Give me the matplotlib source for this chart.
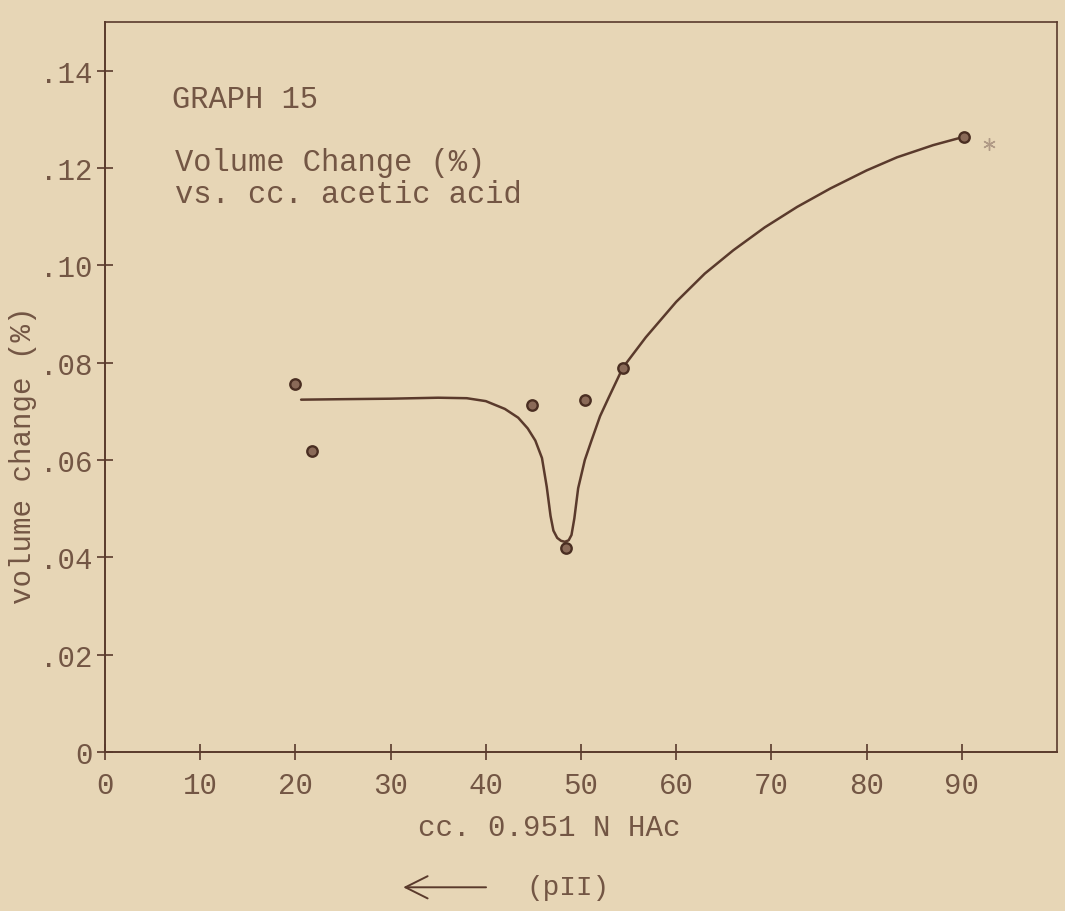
import matplotlib
matplotlib.use("Agg")
import matplotlib.pyplot as plt

# measured points (cc acid, volume change %)
pts_x = [20.0, 21.7, 44.8, 50.4, 48.4, 54.4, 90.2]
pts_y = [0.0757, 0.0619, 0.0713, 0.0724, 0.0419, 0.0790, 0.1264]

# hand drawn curve
curve_x = [20.6, 25.0, 30.0, 35.0, 38.0, 40.0, 42.0, 43.4, 44.4, 45.2, 45.9,
           46.4, 46.8, 47.1, 47.5, 47.9, 48.3, 48.7, 49.0, 49.3, 49.7, 50.4,
           51.1, 52.0, 52.9, 54.4, 56.8, 60.0, 63.0, 66.0, 69.3, 72.7, 76.2,
           80.0, 83.2, 87.0, 90.2]
curve_y = [0.0724, 0.0725, 0.0726, 0.0728, 0.0727, 0.0721, 0.0705, 0.0687,
           0.0665, 0.0640, 0.0604, 0.0545, 0.0485, 0.0455, 0.0440, 0.0434,
           0.0432, 0.0435, 0.0446, 0.0480, 0.0542, 0.0600, 0.0640, 0.0690,
           0.0728, 0.0790, 0.0852, 0.0925, 0.0983, 0.1031, 0.1078, 0.1120,
           0.1158, 0.1195, 0.1222, 0.1247, 0.1264]

star_x = [92.9]
star_y = [0.1250]

xticks = list(range(0, 100, 10))
yticks = [0, 0.02, 0.04, 0.06, 0.08, 0.10, 0.12, 0.14]
ylabels = ["0", ".02", ".04", ".06", ".08", ".10", ".12", ".14"]

paper = "#e7d6b6"
ink = "#5a3a2c"
typed = "#735644"

plt.rcParams['font.family'] = ['Liberation Mono', 'DejaVu Sans Mono']

fig = plt.figure(figsize=(10.65, 9.12), dpi=100)
fig.patch.set_facecolor(paper)
ax = fig.add_axes([0.0986, 0.1743, 0.8939, 0.8005])
ax.set_facecolor(paper)

ax.plot(curve_x, curve_y, color=ink, lw=1.8, solid_capstyle='round',
        solid_joinstyle='round')
ax.plot(pts_x, pts_y, 'o', ms=7.5, mfc="#8a6a58", mec="#4a2e22", mew=1.7)
ax.plot(star_x, star_y, marker=(6, 2, 0), ms=9, color="#b09a86", lw=0,
        mew=1.0)

ax.set_xlim(0, 100)
ax.set_ylim(0, 0.15)
ax.set_xticks(xticks)
ax.set_xticklabels([str(t) for t in xticks])
ax.set_yticks(yticks)
ax.set_yticklabels(ylabels)
ax.tick_params(direction='inout', length=12, width=1.2, color=ink,
               labelcolor=typed, labelsize=21)
ax.tick_params(axis='x', pad=8)
ax.tick_params(axis='y', pad=3)

for s in ax.spines.values():
    s.set_color(ink)
    s.set_linewidth(1.4)
ax.spines['top'].set_linewidth(1.2)
ax.spines['right'].set_linewidth(1.2)

ax.set_xlabel("cc. 0.951 N HAc", fontsize=21, color=typed)
ax.xaxis.set_label_coords(0.467, -0.083)
ax.set_ylabel("volume change (%)", fontsize=21, color=typed)
ax.yaxis.set_label_coords(-0.071, 0.408)

ax.text(7.0, 0.1342, "GRAPH 15", fontsize=22, color=typed, va='center')
ax.text(7.35, 0.1212, "Volume Change (%)", fontsize=22, color=typed,
        va='center')
ax.text(7.35, 0.1146, "vs. cc. acetic acid", fontsize=22, color=typed,
        va='center')

fig.patches.append(matplotlib.patches.FancyArrowPatch(
    (0.459, 0.026), (0.376, 0.026), transform=fig.transFigure,
    arrowstyle='->,head_length=0.8,head_width=0.4', color=ink, lw=1.4,
    mutation_scale=20))
fig.text(0.494, 0.026, "(pII)", fontsize=20, color=typed, va='center')

fig.savefig("out.png", dpi=100, facecolor=paper)
